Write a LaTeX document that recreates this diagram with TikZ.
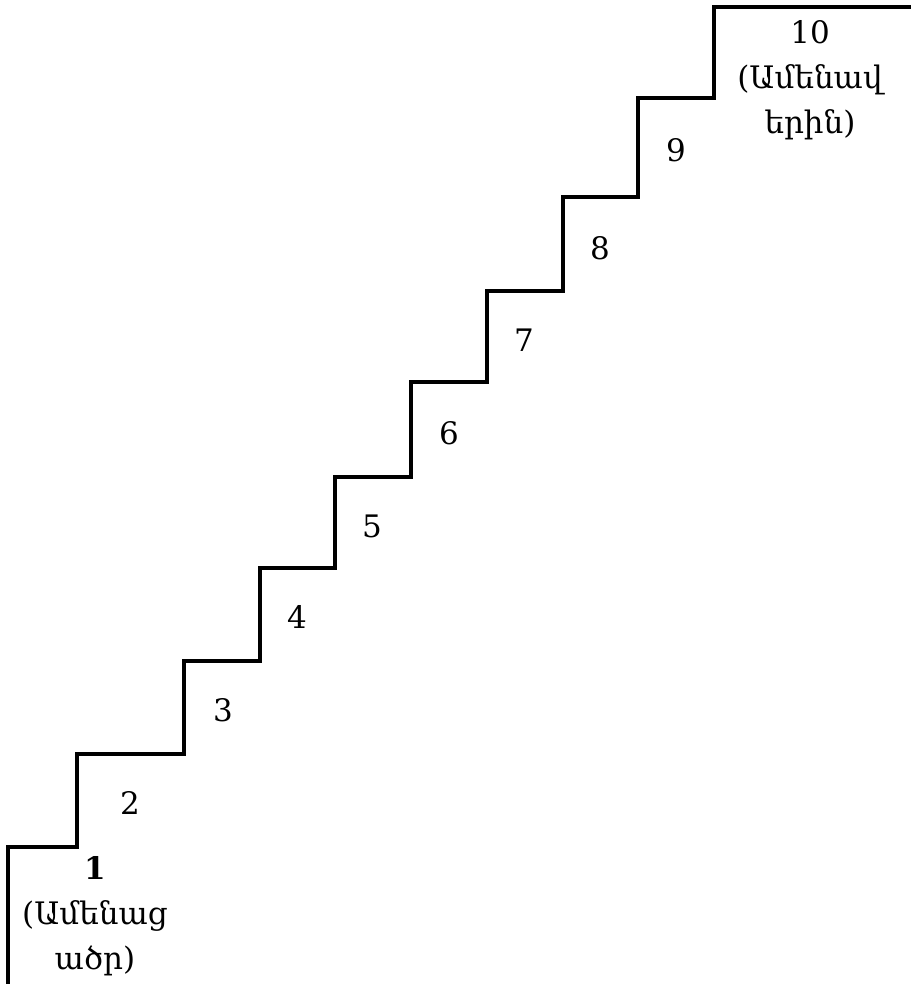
\documentclass[tikz,border=0pt]{standalone}
\usepackage{fontspec}
\setmainfont{DejaVu Serif}
\begin{document}
\begin{tikzpicture}[x=1pt,y=-1pt,
  stair/.style={line width=3.2pt,line join=miter},
  lbl/.style={font=\fontsize{31}{45}\selectfont,align=center,inner sep=0pt}]
\useasboundingbox (0,0) rectangle (910,984);
\draw[stair] (8,986) -- (8,847) -- (77,847) -- (77,754) -- (184,754) -- (184,661)
  -- (260,661) -- (260,568) -- (335,568) -- (335,477) -- (411,477) -- (411,382)
  -- (487,382) -- (487,291) -- (563,291) -- (563,197) -- (638,197) -- (638,98)
  -- (714,98) -- (714,7) -- (912,7);
\node[lbl] (s1) at (95,916) {\textbf{1}\\(Ամենաց\\ածր)};
\node[lbl] (s2) at (130,803) {2};
\node[lbl] (s3) at (223,710) {3};
\node[lbl] (s4) at (297,617) {4};
\node[lbl] (s5) at (372,526) {5};
\node[lbl] (s6) at (449,433) {6};
\node[lbl] (s7) at (524,340) {7};
\node[lbl] (s8) at (600,248) {8};
\node[lbl] (s9) at (676,150) {9};
\node[lbl] (s10) at (810,80) {10\\(Ամենավ\\երին)};
\end{tikzpicture}
\end{document}
